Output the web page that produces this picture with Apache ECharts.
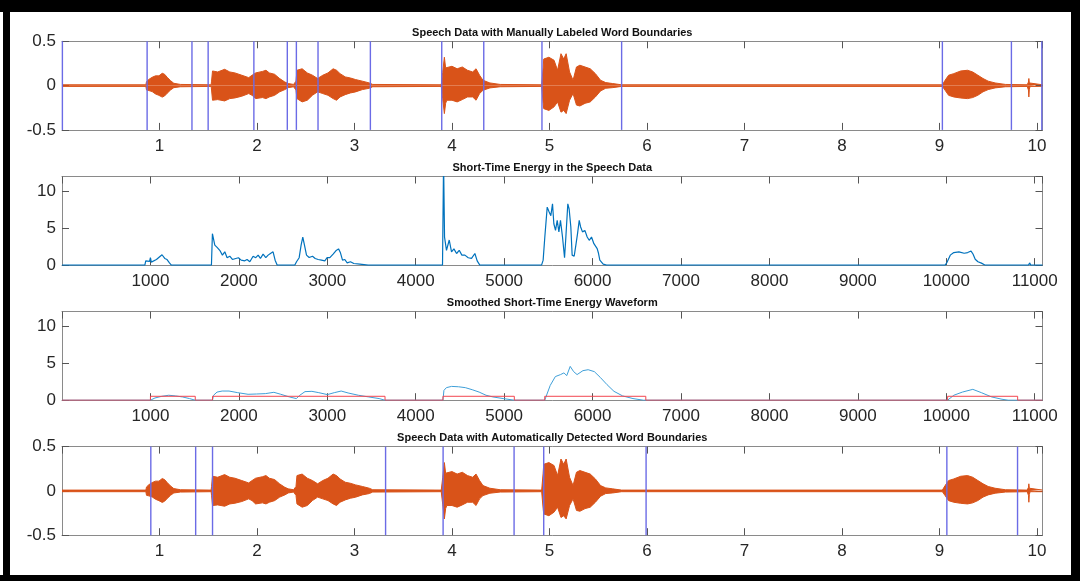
<!DOCTYPE html>
<html><head><meta charset="utf-8">
<script src="https://cdn.jsdelivr.net/npm/echarts@6/dist/echarts.min.js"></script>
<style>html,body{margin:0;padding:0;background:#fff}#c{width:1080px;height:581px}</style>
</head><body><div id="c"></div><script>
// ---------- data ----------
const titles = [
  'Speech Data with Manually Labeled Word Boundaries',
  'Short-Time Energy in the Speech Data',
  'Smoothed Short-Time Energy Waveform',
  'Speech Data with Automatically Detected Word Boundaries'
];
const timeMax = 10.057;     // seconds
const frameMax = 11088;     // frames

// waveform envelope (time s, upper, lower)
const waveT = [0,0.86,0.867,0.891,0.925,0.959,0.994,1.028,1.052,1.079,1.113,1.147,1.216,
  1.53,1.534,1.544,1.597,1.668,1.721,1.774,1.844,1.915,1.95,1.986,2.056,2.092,2.127,2.18,2.233,2.286,2.321,2.375,
  2.4,2.41,2.463,2.516,2.569,2.622,2.675,2.728,2.781,2.816,2.852,2.905,2.958,3.011,3.081,3.152,3.187,
  3.89,3.905,3.922,3.935,3.947,4.0,4.053,4.106,4.159,4.212,4.247,4.283,4.318,4.389,4.495,
  4.92,4.935,4.941,4.994,5.047,5.083,5.118,5.146,5.171,5.206,5.242,5.277,5.312,5.365,5.418,5.471,5.524,5.577,5.648,5.74,
  9.03,9.041,9.058,9.094,9.147,9.218,9.288,9.341,9.394,9.447,9.5,9.571,9.677,
  9.9,9.913,9.917,9.922,9.93,10.057];
const waveTop = [0.009,0.009,0.045,0.07,0.094,0.11,0.11,0.139,0.128,0.094,0.056,0.026,0.013,
  0.009,0.05,0.165,0.154,0.184,0.154,0.143,0.117,0.09,0.117,0.143,0.16,0.173,0.143,0.128,0.079,0.04,0.023,0.013,
  0.05,0.173,0.19,0.143,0.117,0.08,0.117,0.143,0.19,0.173,0.135,0.098,0.086,0.068,0.05,0.03,0.013,
  0.009,0.15,0.32,0.2,0.19,0.218,0.19,0.21,0.173,0.154,0.19,0.117,0.06,0.03,0.013,
  0.009,0.2,0.3,0.32,0.286,0.173,0.36,0.3,0.36,0.154,0.06,0.21,0.23,0.21,0.19,0.135,0.06,0.034,0.023,0.009,
  0.009,0.03,0.06,0.117,0.135,0.165,0.173,0.154,0.117,0.08,0.05,0.03,0.013,
  0.009,0.04,0.08,0.03,0.009,0.009];
const waveBot = [-0.009,-0.009,-0.05,-0.056,-0.068,-0.094,-0.11,-0.13,-0.117,-0.086,-0.05,-0.023,-0.013,
  -0.009,-0.05,-0.165,-0.158,-0.173,-0.147,-0.139,-0.12,-0.09,-0.11,-0.147,-0.135,-0.147,-0.128,-0.11,-0.07,-0.045,-0.023,-0.013,
  -0.05,-0.147,-0.184,-0.165,-0.109,-0.07,-0.09,-0.109,-0.147,-0.165,-0.128,-0.102,-0.083,-0.071,-0.045,-0.03,-0.013,
  -0.009,-0.15,-0.316,-0.2,-0.165,-0.165,-0.184,-0.158,-0.128,-0.128,-0.165,-0.09,-0.053,-0.026,-0.013,
  -0.009,-0.2,-0.26,-0.28,-0.24,-0.184,-0.3,-0.28,-0.316,-0.165,-0.09,-0.22,-0.23,-0.2,-0.184,-0.128,-0.06,-0.03,-0.023,-0.009,
  -0.009,-0.03,-0.053,-0.11,-0.128,-0.14,-0.147,-0.135,-0.109,-0.07,-0.045,-0.026,-0.013,
  -0.009,-0.05,-0.128,-0.04,-0.009,-0.009];

// word boundaries (seconds)
const manualBounds = [0.004,0.873,1.333,1.499,1.968,2.311,2.404,2.626,3.163,3.895,4.326,4.923,5.74,9.03,9.738,10.05];
const detectedBounds = [0.911,1.371,1.544,3.319,3.909,4.637,4.941,5.991,9.076,9.801];

// short-time energy (frame, value)
const energyFrames = [0,937,947,960,990,1000,1010,1030,1068,1131,1162,1188,1215,1237,
  1690,1701,1728,1754,1784,1814,1841,1867,1897,1927,1965,1995,2026,2067,2093,2124,2161,2191,2218,2244,2274,2305,2331,2357,2387,2410,2433,
  2633,2652,2682,2704,2723,2742,2765,2795,2833,2863,2897,2934,2972,2998,3029,3066,3097,3127,3149,3172,3198,3225,3262,3300,3368,3462,
  4303,4315,4326,4348,4379,4405,4432,4462,4492,4522,4556,4594,4631,4669,4695,4725,
  5423,5441,5460,5487,5509,5528,5547,5562,5581,5600,5619,5637,5660,5683,5698,5720,5735,5754,5769,5792,5811,5830,5849,5864,5886,5913,5939,5962,5988,6015,6037,6052,6067,6082,6101,6120,6158,
  9987,10007,10045,10085,10143,10202,10242,10280,10302,10327,10358,10397,10436,
  10930,10942,10955,11088];
const energyValues = [0,0,0.58,0.45,0.5,1.0,0.4,0.58,0.76,1.4,0.9,0.75,0.3,0,
  0,4.26,2.7,2.4,2.0,1.35,1.8,1.0,1.2,0.76,0.9,1.0,0.67,0.58,0.76,0.45,1.2,1.0,1.35,0.9,1.48,1.0,1.35,1.57,1.8,0.67,0,
  0,0.45,1.0,2.7,3.8,2.7,1.35,1.03,1.2,0.9,0.76,0.67,0.58,1.0,1.0,1.48,1.93,2.2,1.66,0.67,0.76,0.3,0.45,0.22,0.13,0,
  0,14,3.8,2.0,3.4,1.8,2.2,1.57,2.0,1.35,1.35,1.0,0.9,1.57,0.58,0,
  0,0.67,3.8,7.85,7.2,6.7,8.3,5.6,4.7,6.05,4.5,6.05,3.8,1.0,3.8,8.3,7.6,5.2,1.35,1.2,2.7,4.26,6.05,5.2,4.5,4.7,3.8,3.36,3.8,2.9,2.7,2.24,1.6,0.67,0.45,0.13,0,
  0,0.35,1.35,1.7,1.8,1.6,1.7,1.9,1.5,0.8,0.45,0.27,0,
  0,0.3,0,0];

// smoothed energy (frame, value)
const smoothFrames = [0,1000,1051,1129,1207,1285,1363,1441,1507,
  1702,1714,1753,1811,1889,1987,2104,2201,2299,2396,2474,2572,2650,2689,2748,2826,2904,3001,3079,3157,3235,3352,3469,3586,3653,
  4308,4319,4347,4405,4483,4561,4639,4717,4795,4873,4990,5115,
  5459,5521,5579,5638,5676,5708,5747,5786,5825,5891,5950,6020,6086,6164,6242,6340,6457,6574,
  10015,10085,10182,10300,10397,10513,10630,10700,11088];
const smoothValues = [0,0,0.3,0.53,0.67,0.58,0.44,0.22,0,
  0,0.67,1.1,1.24,1.24,1.02,0.8,0.84,0.89,1.07,0.8,0.44,0.22,0.67,1.16,1.2,1.02,0.76,1.02,1.24,0.98,0.67,0.44,0.22,0,
  0,1.33,1.7,1.87,1.82,1.7,1.42,1.1,0.67,0.44,0.22,0,
  0,2.0,3.2,3.47,3.7,3.33,4.58,3.87,3.47,4.0,4.13,3.87,3.1,2.1,1.2,0.58,0.22,0,
  0,0.67,1.1,1.47,1.02,0.44,0.13,0,0];

// detected speech segments (frames) and marker level
const segStarts = [1000,1702,4308,5459,10015];
const segEnds   = [1507,3653,5115,6602,10807];
const segLevel = 0.53;

// tick settings
const timeTickStep = 1, frameTickStep = 1000;
const waveYTicks = [-0.5, 0.5, 0.5];   // min, max, step
const energyYTicks = [0, 12, 5];        // min, max, step

// ---------- chart ----------
const FONT = 'Liberation Sans';
const gridTops = [41.3, 176.5, 311.6, 446.6];
const gridH = 88.6, gridL = 62, gridW = 980.5;
const axisCol = '#8a8a8a', tickCol = '#555', labCol = '#262626';

const grids = gridTops.map(t => ({left: gridL, top: t, width: gridW, height: gridH, containLabel: false}));

function xPair(gi, max, step) {
  const base = {type: 'value', gridIndex: gi, min: 0, max: max, interval: step,
    axisLine: {show: true, onZero: false, lineStyle: {color: axisCol, width: 1}},
    axisTick: {show: true, inside: true, length: 7, lineStyle: {color: tickCol, width: 1}},
    splitLine: {show: false}};
  return [
    Object.assign({}, base, {position: 'bottom', axisLabel: {show: true, showMinLabel: false, showMaxLabel: false,
      color: labCol, fontSize: 17, fontFamily: FONT, margin: 8, formatter: v => String(v)}}),
    Object.assign({}, base, {position: 'top', axisLabel: {show: false}})
  ];
}
function yPair(gi, cfg, hideMax) {
  const base = {type: 'value', gridIndex: gi, min: cfg[0], max: cfg[1], interval: cfg[2],
    axisLine: {show: true, onZero: false, lineStyle: {color: axisCol, width: 1}},
    axisTick: {show: true, inside: true, length: 7, lineStyle: {color: tickCol, width: 1}},
    splitLine: {show: false}};
  return [
    Object.assign({}, base, {position: 'left', axisLabel: {show: true, showMaxLabel: !hideMax,
      color: labCol, fontSize: 17, fontFamily: FONT, margin: 6, formatter: v => String(v)}}),
    Object.assign({}, base, {position: 'right', axisLabel: {show: false}})
  ];
}

const xAxes = [].concat(xPair(0, timeMax, timeTickStep), xPair(1, frameMax, frameTickStep),
  xPair(2, frameMax, frameTickStep), xPair(3, timeMax, timeTickStep));
const yAxes = [].concat(yPair(0, waveYTicks, false), yPair(1, energyYTicks, true),
  yPair(2, energyYTicks, true), yPair(3, waveYTicks, false));

const zip = (a, b) => a.map((v, i) => [v, b[i]]);
const ORANGE = '#D95319', BOUND = '#6b6be6';

function lineSeries(gi, data, color, extra) {
  return Object.assign({type: 'line', xAxisIndex: 2 * gi, yAxisIndex: 2 * gi, data: data,
    symbol: 'none', showSymbol: false, clip: true, animation: false, silent: true,
    lineStyle: {color: color, width: 1}, itemStyle: {color: color}}, extra || {});
}
// vertical boundary lines through the axis scales
function boundSeries(gi, list, yr) {
  return {type: 'custom', xAxisIndex: 2 * gi, yAxisIndex: 2 * gi, silent: true, animation: false, z: 5,
    data: list.map(t => [t]), encode: {x: 0},
    renderItem: function (params, api) {
      const t = api.value(0);
      const p1 = api.coord([t, yr[0]]), p2 = api.coord([t, yr[1]]);
      return {type: 'line', shape: {x1: p1[0], y1: p1[1], x2: p2[0], y2: p2[1]},
        style: {stroke: BOUND, lineWidth: 1.4}};
    }};
}

const topWave = zip(waveT, waveTop), botWave = zip(waveT, waveBot);
const redData = [[0, 0]];
segStarts.forEach((s, i) => { redData.push([s, 0], [s, segLevel], [segEnds[i], segLevel], [segEnds[i], 0]); });
redData.push([frameMax, 0]);

const series = [
  lineSeries(0, topWave, ORANGE, {areaStyle: {color: ORANGE, opacity: 1}}),
  lineSeries(0, botWave, ORANGE, {areaStyle: {color: ORANGE, opacity: 1}}),
  boundSeries(0, manualBounds, [waveYTicks[0], waveYTicks[1]]),
  lineSeries(1, zip(energyFrames, energyValues), '#0072BD', {lineStyle: {color: '#0072BD', width: 1.2}}),
  lineSeries(2, zip(smoothFrames, smoothValues), '#3f9fd8'),
  lineSeries(2, redData, '#f2464f'),
  lineSeries(3, topWave, ORANGE, {areaStyle: {color: ORANGE, opacity: 1}}),
  lineSeries(3, botWave, ORANGE, {areaStyle: {color: ORANGE, opacity: 1}}),
  boundSeries(3, detectedBounds, [waveYTicks[0], waveYTicks[1]])
];

const graphics = [
  {type: 'rect', shape: {x: 0, y: 0, width: 1080, height: 12}, style: {fill: '#000'}, silent: true},
  {type: 'rect', shape: {x: 0, y: 575, width: 1080, height: 6}, style: {fill: '#000'}, silent: true},
  {type: 'rect', shape: {x: 3, y: 0, width: 7, height: 581}, style: {fill: '#000'}, silent: true},
  {type: 'rect', shape: {x: 1071, y: 0, width: 9, height: 581}, style: {fill: '#000'}, silent: true}
].concat(titles.map((t, i) => ({type: 'text', x: gridL + gridW / 2, y: gridTops[i] - 8.7, silent: true,
  style: {text: t, align: 'center', verticalAlign: 'middle', fontSize: 11, fontWeight: 'bold',
    fontFamily: FONT, fill: '#111'}})));

const chart = echarts.init(document.getElementById('c'), null, {renderer: 'canvas'});
chart.setOption({
  animation: false,
  backgroundColor: '#fff',
  grid: grids,
  xAxis: xAxes,
  yAxis: yAxes,
  series: series,
  graphic: graphics
});
</script></body></html>
